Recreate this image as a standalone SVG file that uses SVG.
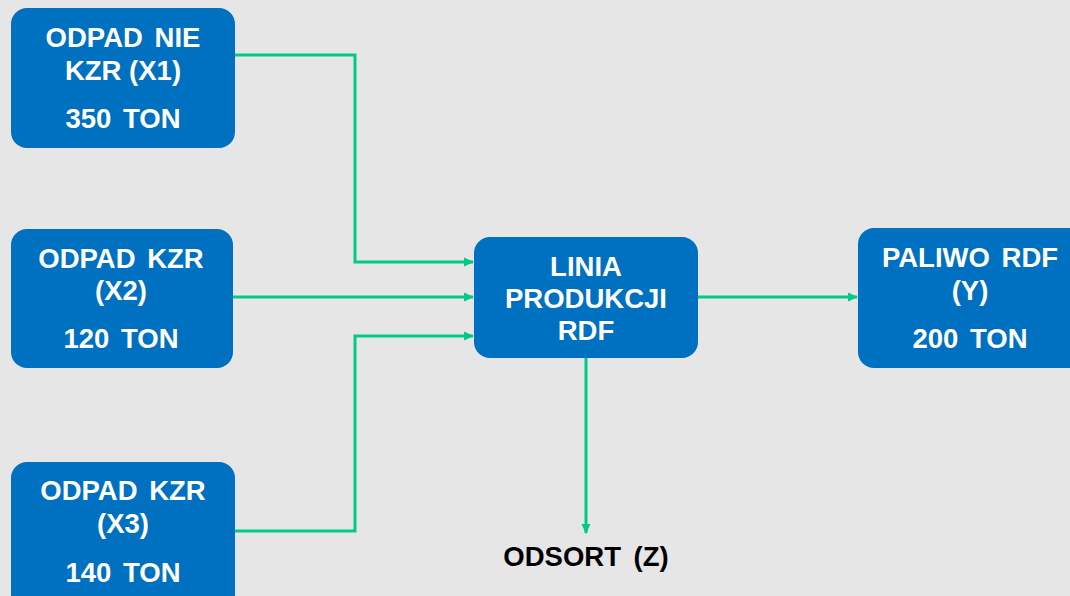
<svg xmlns="http://www.w3.org/2000/svg" width="1070" height="596" viewBox="0 0 1070 596">
<style>
.box{fill:#0070c0;}
.t{font-family:"Liberation Sans",Arial,sans-serif;font-weight:bold;font-size:27.5px;fill:#ffffff;text-anchor:middle;word-spacing:4px;}
.k{font-family:"Liberation Sans",Arial,sans-serif;font-weight:bold;font-size:27.5px;fill:#000000;text-anchor:middle;word-spacing:5px;}
.c{fill:none;stroke:#00c98a;stroke-width:3;}
</style>
<defs>
<marker id="ah" markerWidth="10" markerHeight="10" refX="9" refY="5" orient="auto" markerUnits="userSpaceOnUse">
<path d="M0,0.5 L10,5 L0,9.5 Z" fill="#00c98a"/>
</marker>
</defs>
<rect x="0" y="0" width="1070" height="596" fill="#e6e6e6"/>
<g id="connectors">
<polyline class="c" points="235,55 355,55 355,262 473,262" marker-end="url(#ah)"/>
<line class="c" x1="233" y1="297" x2="473" y2="297" marker-end="url(#ah)"/>
<polyline class="c" points="235,531 355,531 355,336 473,336" marker-end="url(#ah)"/>
<line class="c" x1="698" y1="297" x2="857" y2="297" marker-end="url(#ah)"/>
<line class="c" x1="586" y1="358" x2="586" y2="533" marker-end="url(#ah)"/>
</g>
<g id="x1">
<rect class="box" x="11" y="8" width="224" height="140" rx="16"/>
<text class="t" x="123" y="47">ODPAD NIE</text>
<text class="t" x="123" y="80" style="word-spacing:0">KZR (X1)</text>
<text class="t" x="123" y="128">350 TON</text>
</g>
<g id="x2">
<rect class="box" x="11" y="229" width="222" height="139" rx="16"/>
<text class="t" x="121" y="268">ODPAD KZR</text>
<text class="t" x="121" y="300">(X2)</text>
<text class="t" x="121" y="348">120 TON</text>
</g>
<g id="x3">
<rect class="box" x="11" y="462" width="224" height="150" rx="16"/>
<text class="t" x="123" y="500">ODPAD KZR</text>
<text class="t" x="123" y="533">(X3)</text>
<text class="t" x="123" y="582">140 TON</text>
</g>
<g id="linia">
<rect class="box" x="474" y="237" width="224" height="121" rx="16"/>
<text class="t" x="586" y="276">LINIA</text>
<text class="t" x="586" y="308">PRODUKCJI</text>
<text class="t" x="586" y="340">RDF</text>
</g>
<g id="paliwo">
<rect class="box" x="858" y="228" width="230" height="140" rx="16"/>
<text class="t" x="970" y="267">PALIWO RDF</text>
<text class="t" x="970" y="300">(Y)</text>
<text class="t" x="970" y="348">200 TON</text>
</g>
<g id="odsort">
<text class="k" x="586" y="566">ODSORT (Z)</text>
</g>
</svg>
